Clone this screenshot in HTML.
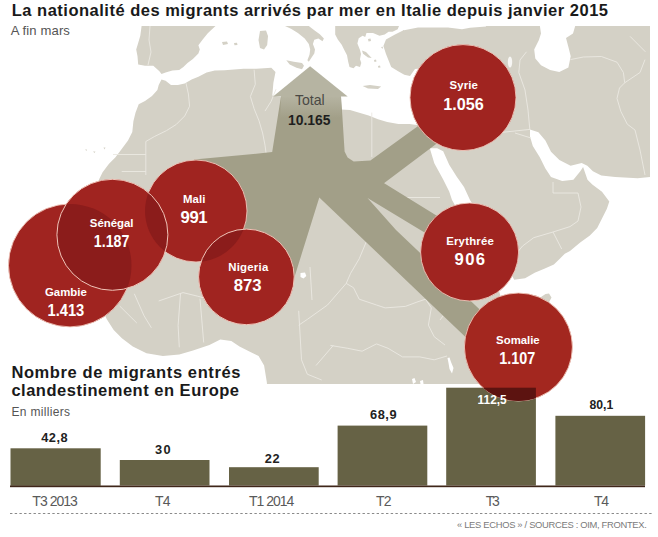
<!DOCTYPE html>
<html lang="fr">
<head>
<meta charset="utf-8">
<title>La nationalité des migrants arrivés par mer en Italie</title>
<style>
html,body{margin:0;padding:0;background:#fff;}
body{width:658px;height:537px;overflow:hidden;position:relative;font-family:"Liberation Sans",Arial,sans-serif;}
svg{position:absolute;left:0;top:0;display:block;}
svg text{font-family:"Liberation Sans",Arial,sans-serif;}
.lbl{fill:#fff;font-weight:bold;font-size:11.4px;}
.num{fill:#fff;font-weight:bold;font-size:16.7px;}
.val{fill:#222;font-weight:bold;font-size:12.8px;}
.cat{fill:#5a5a5a;font-size:14px;}
</style>
</head>
<body>
<svg width="658" height="537" viewBox="0 0 658 537">
  <defs>
    <clipPath id="cGam"><circle cx="70" cy="265.4" r="61.5"/></clipPath>
    <clipPath id="cMal"><circle cx="196" cy="211" r="51"/></clipPath>
    <clipPath id="cSom"><circle cx="518.4" cy="347" r="54"/></clipPath>
  </defs>
  <!-- ===== MAP ===== -->
  <g id="map">
    <rect x="0" y="26" width="650" height="358" fill="#d4d1c6"/>
    <!-- Atlantic + Mediterranean + Gulf of Guinea -->
    <path fill="#fff" d="M0,20 L141.6,20 L141.6,26 L140.3,35.7 L137.5,45.3 L136.2,49.4 L137.5,56.2 L138.2,64.4 L145,65.8 L153.3,65.8 L159.4,71.2 L161.5,74 L165.6,72.6 L172.4,70.6 L179.2,69.9 L183.4,67.1 L187.5,63 L192.9,58.9 L198.4,53.5 L199.8,49.4 L198.4,45.3 L202.5,39.8 L208,32.9 L215.5,26 L215.5,20
      L285,20 L285,26 L291,28.8 L297.9,32.9 L304.7,38.4 L308.8,43.9 L310.2,49.4 L309.5,54.8 L307.4,60.3 L308.8,61.7 L311.6,57.6 L314.3,53.5 L315,49.4 L312.9,43.9 L314.3,39.8 L318.4,38.4 L322.5,41.2 L323.9,38.4 L319.8,34.3 L314.3,30.2 L308.8,26 L308.8,20
      L334.7,20 L335.2,26 L335.2,34.4 L337.8,39.6 L341.7,44.8 L344.3,50 L347,55.3 L348.2,61.8 L349.5,67 L353.5,68.3 L356,65.7 L360,67 L361.3,63 L360,59.2 L361,54 L360,50 L357.4,43.5 L358.7,38.3 L362.6,35.7 L365.2,37 L366.5,33.1 L373,33.1 L379.5,35.7 L384.7,34.4 L388.6,31.8 L392.5,31.8 L397.7,29.2 L399,26 L399,20 L403,20 L403,30.5
      L395,34.4 L386,39.6 L383.4,46.1 L386,54 L388.6,60.5 L391.2,67 L397.7,70.9 L404.3,74.8 L410,76.1 L415,69.1 L425,68 L440,70 L450,73
      L448,82 L445,95 L440,110 L432,122 L422,125 L415,124.8 L409.6,123.9 L398.4,123.9 L387.2,122 L378,119.2 L368.6,115.5 L359.3,112.7 L350,110 L341,109.5
      L330,106 L320,110 L305,108 L292,100 L280,97 L272.3,95.4 L273.4,82.7 L275.5,72 L271.3,67.8 L256.4,68.8 L243.6,68.8 L224.5,70.3 L214.8,70.6 L206.6,72.6 L198.4,76.7 L191.6,79.5 L184.7,83.6 L177.9,84.9 L171,84.9 L165.6,80.8 L161.5,79.5
      L158.7,84.9 L157.4,90 L152,96 L145,101 L138.7,104.3 L135.5,112.8 L133.4,121.3 L132.3,131.9 L128,140.4 L121.7,148.9 L115.3,157.4 L109,163.8 L102.6,172.3 L99.4,178.7
      L95,190 L88,205 L80,215 L86,225 L88,240 L90,260 L95,285 L100,305 L106.8,319.2 L113.7,330 L121.9,338.2 L132.8,346.4 L146.5,353.2 L162.9,356 L179.3,354.6 L193,350.5 L209.4,345 L220.3,339.6 L231.3,341 L239.5,346.4 L250.4,351.9 L258.6,356 L264.1,365.6 L266.8,382 L267.5,390 L0,390 Z"/>
    <!-- Black Sea strip -->
    <path fill="#fff" d="M399,20 L486,20 L486,26.5 L470,27.8 L462,29.3 L448,27.6 L418,27.6 L404,30.2 L400,29 L399,26 Z"/>
    <!-- Islands -->
    <path fill="#d4d1c6" d="M260,31 L266,30.5 L268,36 L267.2,45 L264,49.5 L260,48 L258.5,40 Z"/>
    <path fill="#d4d1c6" d="M286.3,60.3 L293.8,61.7 L302,63 L304,65.8 L302,69.2 L296.5,67.8 L289.7,64.4 Z"/>
    <path fill="#d4d1c6" d="M362.6,86 L370,85 L381.2,86.5 L378,89 L368,88.5 Z"/>
    <path fill="#d4d1c6" d="M362,50.5 L366,52 L371.7,57.9 L368,57.6 L363,53.8 Z M368,39 L370.5,38.5 L371,41 L368.5,41.5 Z M374,60 L376,59.5 L376.5,61.5 L374.5,62 Z M378,66 L380,65.5 L380.5,67.5 L378.3,67.8 Z M381,47 L383,46.8 L382.5,49 Z"/>
    <path fill="#d4d1c6" d="M222,42 L227,41.5 L228,44 L223,45 Z M234,43 L237,42.8 L237.5,45 L234.5,45.2 Z"/>
    <path fill="#d4d1c6" d="M85,149.5 L87,149.5 L86.5,151 Z M93,151.5 L95.5,151.5 L94.5,153 Z M103.5,147.5 L105.5,147.5 L104.5,149.5 Z"/>
    <!-- Caspian -->
    <path fill="#fff" d="M539.9,20 L575.2,20 L575.2,26 L573,33.4 L566,38 L568.4,47 L570.7,56.2 L568.4,67.6 L559.3,72.1 L550.1,69.9 L541,65.3 L535.3,58.5 L534.2,49.4 L538.8,40.2 L541,33.4 L539.9,26 Z"/>
    <!-- lake -->
    <ellipse cx="510" cy="62" rx="2.2" ry="5.5" fill="#fff" opacity="0.8"/>
    <!-- Red Sea, Gulf of Aden, Arabian Sea, Persian Gulf -->
    <path fill="#fff" d="M429.8,148.3 L434.3,163.2 L443.2,179.6 L449.2,191.5 L452,200 L460,214 L472,232 L485,250 L496,266 L500,278 L498,287 L501,298 L520,300 L538,299 L545.5,294 L549,293.5 L551.5,297.5
      L545,310 L535,330 L520,350 L505,370 L495,390 L650,390 L650,176.9 L637.6,178.3 L615.2,176.9 L601.3,175.5 L592.9,171.3 L587.3,165.7 L581.7,162.9 L570.6,165.7 L559.4,160.1 L551,151.7 L545.4,140.6 L538.4,132.2 L530,129.4
      L530,136.4 L532.8,146.1 L539.8,157.3 L545.4,168.5 L551,176.9 L562.2,181.1 L573.4,179.7 L580.3,171.3 L583.1,167.1
      L587.5,179.7 L592.3,184.5 L602,191.8 L609.3,201.5 L606.9,208.7 L602,218.4 L597.2,228 L589.9,235.4 L580.2,242.6 L570,251 L564.8,253.7 L559.3,259.2 L553.9,264.6 L544.3,268.7 L534.7,272.8 L525.1,278.3 L514.2,279.7
      L508,268 L498,250 L487,230 L476,210 L470,200 L464,187 L456.6,176.6 L449.2,164.7 L443.2,151.3 L437.2,148.3 Z"/>
    <!-- borders -->
    <path fill="none" stroke="#ebe9e2" stroke-width="0.9" stroke-linejoin="round" d="
      M150,26 L149,40 L151,52 L148,65
      M186,83.1 L188.4,94 L189.6,106.2 L184.7,116 L176.2,124.5 L166.5,130.6 L154.3,136.6 L145.8,141.5 L145.8,175
      M113,154.5 L145.8,154.5 M121.7,171.5 L145.8,171.5
      M254.1,69.7 L255.3,84.3 L250.4,96.5 L254.1,108.7 L259,120.8 L262.6,133 L265,145.2 L266.3,154.9
      M276,89.2 L271.1,101.4 L265,111.1
      M371.8,112.6 L371.8,157
      M382,197.5 L440,197.5
      M366.4,241.5 L359.2,258.8 L350.6,273.3 L346.2,283.4 L353.5,287.7 L359.2,299.2 L367.9,302.1 L376.5,305 L385.2,307.9 L405.4,306.4 L416.9,302.1 L425.6,299.2 L431.3,307.9 L428.4,325.2 L434.2,336.7 L445,345
      M346.2,283.4 L327.5,305 L307.3,319.4 L298.7,325.2
      M298.7,310.8 L301.5,359.8 L307.3,374.2 L321.7,380
      M330.4,345.4 L347.7,348.3 L362.1,351.2 L376.5,343.9 L388.1,348.3 L402.5,356.9 L419.8,356.9 L434.2,359.8 L447,356
      M316,365.5 L333.3,345.4
      M310,267 L312,300
      M180.5,293.8 L178.1,325.4 L179.3,347.3
      M200,298.7 L203.7,342.5
      M158.7,301 L183,292.6 L197.6,296.2 L212,300
      M134.3,293.8 L144,315.7 L151.4,327.8
      M119.7,306 L136.8,323
      M570.4,59.6 L583.4,57 L601.4,56.5 L617,62.2 L623.4,72.5 L624.7,82.8 L619.5,88 L617,98.4 L620.8,111.3 L627.3,124.2 L635,130 L640,150 L645,175
      M624.7,82.8 L640,72.5 L645,59.6
      M630,36.3 L645.4,51.8
      M526.5,51.8 L520,60 L518.8,72.5 L525,90 L528,110 L529.8,129.4
      M515,133 L531,138
      M470,118 L503.5,132.2 L530,129.4
      M553,182 L553,193 L578,193 L581,207 L578,221 L570,226.6 L553,232 L533.7,237.7 L522.6,246 L516,254
      M553,232 L561.7,249
      M455,300 L470,310 L480,330
      M440,320 L455,300
    "/>
    <!-- lakes -->
    <path fill="#fff" d="M300.5,273 L305,272.5 L306.3,276 L303.5,278.5 L300.5,277 Z"/>
    <path fill="#fff" d="M447.5,358 L449.5,357.5 L451,362 L453.5,368 L452,373.5 L449.5,369 L448.5,363 Z"/>
    <path fill="#fff" d="M412,379 L414.5,378 L416,382 L413,384 Z M420,381 L423,380 L423.5,384 L420.5,384 Z"/>
  <!-- somalia tip -->
    
  </g>

  <!-- ===== FLOWS ===== -->
  <defs>
    <linearGradient id="gShaft" x1="0" y1="96" x2="0" y2="118" gradientUnits="userSpaceOnUse">
      <stop offset="0" stop-color="#b6b4a2"/>
      <stop offset="1" stop-color="#a29f88"/>
    </linearGradient>
  </defs>
  <path fill="#a29f88" d="M281,96.3 L341,96.3 L342.3,115 L344.6,151.5 L347.6,157.6 L353.7,161.4 L362.8,162.1 L370.4,160.6 L383.8,183 L367.5,198 L319.3,197.4 L292,285 L246.4,276.9 L196,211 L194,159.5 L242.6,155 L272.2,152.1 Z
    M353.7,161.4 L370.4,160.6 L470,88.6 L470,118.6 L382.6,184.2 L370,190 Z
    M383.8,183 L470,236.2 L470,260 L367.5,197.9 Z
    M367.5,198 L396,230 L530,357.3 L500,370 L319.3,197.4 Z"/>
  <path fill="url(#gShaft)" d="M281.2,96.3 L340.8,96.3 L341.6,118 L280,118 Z"/>
  <path d="M310.1,66.2 L347.7,96.4 L273.1,96.4 Z" fill="#b6b4a2"/>

  <!-- ===== CIRCLES ===== -->
  <g id="circles" fill="#a02420">
    <circle cx="70" cy="265.4" r="61.5" stroke="#efc6ba" stroke-width="0.9"/>
    <circle cx="196" cy="211" r="51" stroke="#efc6ba" stroke-width="0.9"/>
    <circle cx="112.4" cy="234.8" r="55.5"/>
    <circle cx="112.4" cy="234.8" r="55.5" fill="#8b1c1b" clip-path="url(#cGam)"/>
    <circle cx="112.4" cy="234.8" r="55.5" fill="#8b1c1b" clip-path="url(#cMal)"/>
    <circle cx="112.4" cy="234.8" r="55.5" fill="none" stroke="#f0c4b8" stroke-width="1"/>
    <circle cx="246.4" cy="276.9" r="47.8"/>
    <circle cx="246.4" cy="276.9" r="47.8" fill="#8b1c1b" clip-path="url(#cMal)"/>
    <circle cx="246.4" cy="276.9" r="47.8" fill="none" stroke="#f0c4b8" stroke-width="1"/>
    <circle cx="463" cy="97.6" r="53" stroke="#efc6ba" stroke-width="0.9"/>
    <circle cx="469.6" cy="252" r="49" stroke="#efc6ba" stroke-width="0.9"/>
  </g>

  <!-- map labels -->
  <text x="295" y="104.9" font-size="14.1" fill="#4a4945" textLength="29.7" lengthAdjust="spacing">Total</text>
  <text x="288" y="124.5" font-size="15.4" fill="#1e1e1e" font-weight="bold" textLength="42.4" lengthAdjust="spacingAndGlyphs">10.165</text>

  <text class="lbl" x="449.5" y="89.2" textLength="28.4" lengthAdjust="spacing">Syrie</text>
  <text class="num" x="443.2" y="109.8" textLength="40.6" lengthAdjust="spacingAndGlyphs">1.056</text>
  <text class="lbl" x="446.2" y="245" textLength="47.6" lengthAdjust="spacing">Erythrée</text>
  <text class="num" x="454.6" y="265.1" textLength="30.5" lengthAdjust="spacing">906</text>
  <text class="lbl" x="183.1" y="203.2" textLength="22.2" lengthAdjust="spacing">Mali</text>
  <text class="num" x="180.6" y="223.3" textLength="27" lengthAdjust="spacing">991</text>
  <text class="lbl" x="89.8" y="226.6" textLength="43.7" lengthAdjust="spacing">Sénégal</text>
  <text class="num" x="93.8" y="246.7" textLength="35.5" lengthAdjust="spacingAndGlyphs">1.187</text>
  <text class="lbl" x="45" y="295.5" textLength="41.8" lengthAdjust="spacing">Gambie</text>
  <text class="num" x="47.5" y="315.5" textLength="36.8" lengthAdjust="spacingAndGlyphs">1.413</text>
  <text class="lbl" x="228.2" y="271.1" textLength="40.1" lengthAdjust="spacing">Nigeria</text>
  <text class="num" x="233.7" y="291.2" textLength="27.8" lengthAdjust="spacing">873</text>

  <!-- ===== CHART ===== -->
  <g id="bars" fill="#666245">
    <rect x="10.5" y="448.3" width="90.2" height="37.5"/>
    <rect x="119.8" y="460" width="89.7" height="25.5"/>
    <rect x="229" y="467.2" width="89.7" height="18.3"/>
    <rect x="337.6" y="425.6" width="89.7" height="59.9"/>
    <rect x="446.2" y="387.7" width="89.7" height="97.8"/>
    <rect x="555.4" y="415.8" width="89.7" height="69.7"/>
  </g>
  <rect x="10" y="485.5" width="635" height="1.7" fill="#3f2619"/>

  <!-- Somalia circle -->
  <circle cx="518.4" cy="347" r="54" fill="#a3271f" stroke="#efc6ba" stroke-width="0.9"/>
  <rect x="446.2" y="387.7" width="89.7" height="20" fill="#5c1310" clip-path="url(#cSom)"/>
  <text class="lbl" x="496.1" y="343.5" textLength="43.6" lengthAdjust="spacing">Somalie</text>
  <text class="num" x="499.2" y="363.5" textLength="36" lengthAdjust="spacingAndGlyphs">1.107</text>

  <line x1="10" y1="513.5" x2="652" y2="513.5" stroke="#8a8a8a" stroke-width="1" stroke-dasharray="2.4,2.3"/>

  <text class="val" x="41.2" y="441.9" textLength="26.4" lengthAdjust="spacing">42,8</text>
  <text class="val" x="155" y="453.9" textLength="15.6" lengthAdjust="spacing">30</text>
  <text class="val" x="264.7" y="462.6" textLength="15" lengthAdjust="spacing">22</text>
  <text class="val" x="370" y="419" textLength="26.5" lengthAdjust="spacing">68,9</text>
  <text class="val" x="477.6" y="403.5" textLength="29.1" lengthAdjust="spacingAndGlyphs" style="fill:#fff">112,5</text>
  <text class="val" x="589.5" y="408.5" textLength="23.8" lengthAdjust="spacingAndGlyphs">80,1</text>

  <text class="cat" x="32.3" y="506" textLength="45.6" lengthAdjust="spacing">T3 2013</text>
  <text class="cat" x="155" y="506" textLength="15.6" lengthAdjust="spacing">T4</text>
  <text class="cat" x="249" y="506" textLength="45.4" lengthAdjust="spacing">T1 2014</text>
  <text class="cat" x="376" y="506" textLength="15.6" lengthAdjust="spacing">T2</text>
  <text class="cat" x="485.7" y="506" textLength="14" lengthAdjust="spacing">T3</text>
  <text class="cat" x="594" y="506" textLength="15" lengthAdjust="spacing">T4</text>

  <text x="457" y="527.5" font-size="9.4" fill="#7a7a7a" textLength="189.8" lengthAdjust="spacing">« LES ECHOS » / SOURCES : OIM, FRONTEX.</text>

  <!-- ===== HEADINGS ===== -->
  <text x="11.7" y="15.8" font-size="16.5" font-weight="bold" fill="#1a1a1a" textLength="596.3" lengthAdjust="spacing">La nationalité des migrants arrivés par mer en Italie depuis janvier 2015</text>
  <text x="10.7" y="35.2" font-size="13.1" fill="#555" textLength="59.2" lengthAdjust="spacing">A fin mars</text>
  <text x="11.4" y="377.5" font-size="16.5" font-weight="bold" fill="#1a1a1a" textLength="229" lengthAdjust="spacing">Nombre de migrants entrés</text>
  <text x="11.4" y="395.5" font-size="16.5" font-weight="bold" fill="#1a1a1a" textLength="227.6" lengthAdjust="spacing">clandestinement en Europe</text>
  <text x="11.4" y="415.6" font-size="12" fill="#555" textLength="58.6" lengthAdjust="spacing">En milliers</text>
</svg>
</body>
</html>
